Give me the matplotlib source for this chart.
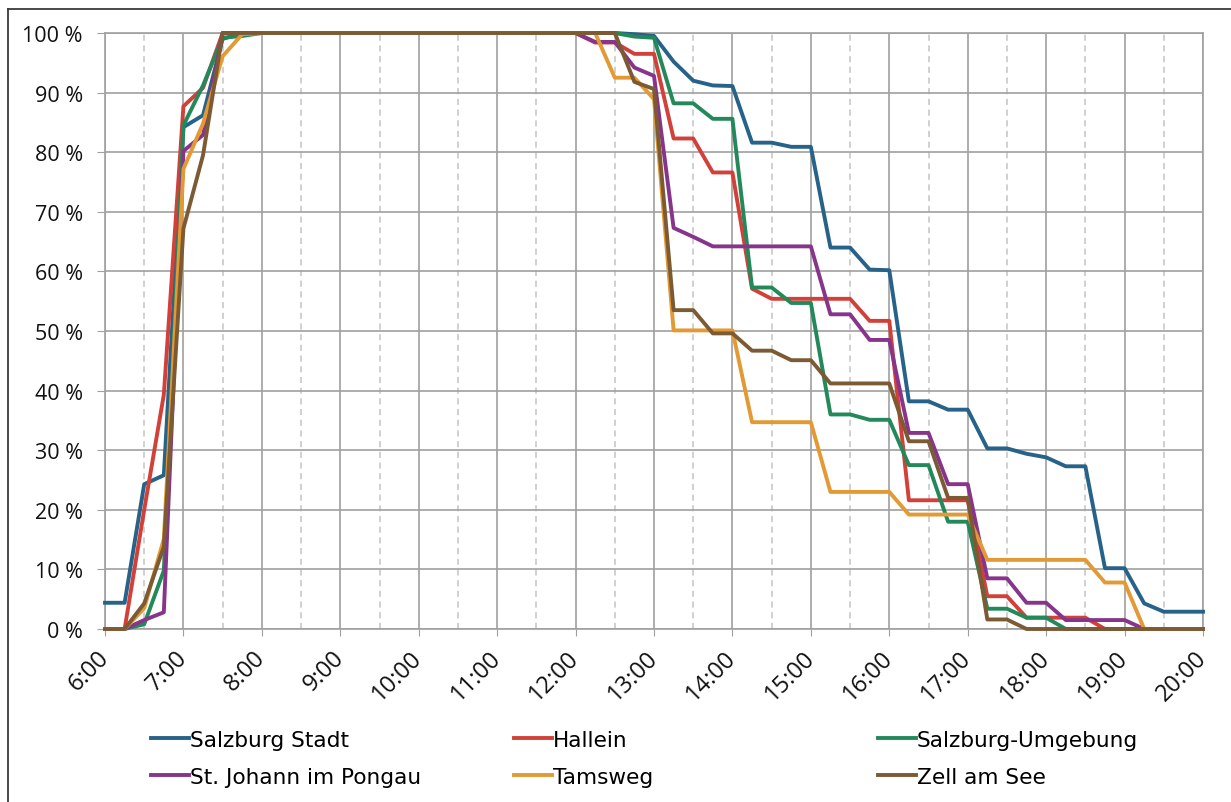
import numpy as np
import matplotlib.pyplot as plt
from matplotlib.lines import Line2D
from matplotlib.ticker import FixedLocator

# quarter-hour slots from 6:00 to 20:00
hours = np.arange(6, 20.25, 0.25)
hour_labels = [f"{h}:00" for h in range(6, 21)]
pct_ticks = list(range(0, 101, 10))

salzburg_stadt = [4.4, 4.4, 24.3, 25.8, 84.2, 86.2, 99.0, 100,
                  100, 100, 100, 100, 100, 100, 100, 100, 100, 100,
                  100, 100, 100, 100, 100, 100, 100, 100, 100,
                  99.8, 99.5, 95.2, 92.0, 91.2, 91.1, 81.6, 81.6, 80.9, 80.9,
                  64.0, 64.0, 60.3, 60.2, 38.2, 38.2, 36.8, 36.8, 30.3, 30.3,
                  29.4, 28.8, 27.3, 27.3, 10.2, 10.2, 4.3, 2.9, 2.9, 2.9]
hallein = [0, 0, 20.0, 39.3, 87.7, 90.8, 100, 100,
           100, 100, 100, 100, 100, 100, 100, 100, 100, 100,
           100, 100, 100, 100, 100, 100, 100, 98.4, 98.4,
           96.5, 96.5, 82.3, 82.3, 76.6, 76.6, 57.1, 55.4, 55.4, 55.4,
           55.4, 55.4, 51.7, 51.7, 21.6, 21.6, 21.6, 21.6, 5.5, 5.5,
           1.9, 1.9, 1.9, 1.9, 0, 0, 0, 0, 0, 0]
umgebung = [0, 0, 0.8, 9.8, 84.5, 91.2, 99.2, 99.5,
            100, 100, 100, 100, 100, 100, 100, 100, 100, 100,
            100, 100, 100, 100, 100, 100, 100, 100, 100,
            99.4, 99.2, 88.2, 88.2, 85.6, 85.6, 57.3, 57.3, 54.7, 54.7,
            36.0, 36.0, 35.1, 35.1, 27.5, 27.5, 18.0, 18.0, 3.4, 3.4,
            1.9, 1.9, 0, 0, 0, 0, 0, 0, 0, 0]
st_johann = [0, 0, 1.5, 2.8, 80.2, 82.9, 100, 100,
             100, 100, 100, 100, 100, 100, 100, 100, 100, 100,
             100, 100, 100, 100, 100, 100, 100, 98.5, 98.5,
             94.2, 92.8, 67.3, 65.8, 64.2, 64.2, 64.2, 64.2, 64.2, 64.2,
             52.8, 52.8, 48.5, 48.5, 32.9, 32.9, 24.3, 24.3, 8.5, 8.5,
             4.4, 4.4, 1.5, 1.5, 1.5, 1.5, 0, 0, 0, 0]
tamsweg = [0, 0, 3.5, 15.1, 77.2, 84.8, 96.1, 99.8,
           100, 100, 100, 100, 100, 100, 100, 100, 100, 100,
           100, 100, 100, 100, 100, 100, 100, 100, 92.5,
           92.5, 88.9, 50.1, 50.1, 50.1, 50.1, 34.7, 34.7, 34.7, 34.7,
           23.0, 23.0, 23.0, 23.0, 19.2, 19.2, 19.2, 19.2, 11.6, 11.6,
           11.6, 11.6, 11.6, 11.6, 7.8, 7.8, 0, 0, 0, 0]
zell_am_see = [0, 0, 4.3, 13.8, 67.2, 79.5, 100, 100,
               100, 100, 100, 100, 100, 100, 100, 100, 100, 100,
               100, 100, 100, 100, 100, 100, 100, 100, 100,
               91.8, 90.6, 53.5, 53.5, 49.6, 49.6, 46.7, 46.7, 45.1, 45.1,
               41.2, 41.2, 41.2, 41.2, 31.5, 31.5, 22.0, 22.0, 1.6, 1.6,
               0, 0, 0, 0, 0, 0, 0, 0, 0, 0]

series = [
    ("Salzburg Stadt", salzburg_stadt, "#276389"),
    ("Hallein", hallein, "#d2403a"),
    ("Salzburg-Umgebung", umgebung, "#24895a"),
    ("St. Johann im Pongau", st_johann, "#87358a"),
    ("Tamsweg", tamsweg, "#e39a35"),
    ("Zell am See", zell_am_see, "#7b5a34"),
]

W, H = 1231, 803
fig = plt.figure(figsize=(W / 100, H / 100), dpi=100)
ax = fig.add_axes([105 / W, 1 - 630 / H, (1203 - 105) / W, (630 - 34) / H])

handles = {}
for name, vals, col in series:
    ln, = ax.plot(hours, vals, color=col, lw=2.8, clip_on=False,
                  solid_joinstyle="round", zorder=3)
    handles[name] = ln

ax.set_xlim(6, 20)
ax.set_ylim(0, 100)
ax.xaxis.set_major_locator(FixedLocator(range(6, 21)))
ax.xaxis.set_minor_locator(FixedLocator(np.arange(6.5, 20, 1.0)))
ax.set_xticklabels(hour_labels)
ax.set_yticks(pct_ticks)
ax.set_yticklabels([f"{v} %" for v in pct_ticks])

grid_col = "#a0a0a0"
ax.grid(which="major", axis="both", color=grid_col, lw=1.2, zorder=1)
ax.grid(which="minor", axis="x", color="#c4c4c4", lw=1.1, ls=(0, (4, 3)), zorder=1)
for sp in ax.spines.values():
    sp.set_color(grid_col)
    sp.set_linewidth(1.2)

tick_font = ["Open Sans", "DejaVu Sans"]
ax.tick_params(axis="y", which="major", length=6, color=grid_col, pad=10,
               labelsize=15.5)
ax.tick_params(axis="x", which="major", length=5, color=grid_col, pad=13,
               labelsize=17)
ax.tick_params(axis="x", which="minor", length=0)
for lbl in ax.get_xticklabels():
    lbl.set_rotation(45)
    lbl.set_rotation_mode("anchor")
    lbl.set_ha("right")
    lbl.set_va("center")
for lbl in ax.get_xticklabels() + ax.get_yticklabels():
    lbl.set_fontfamily(tick_font)
    lbl.set_color("#111111")

# three legend columns, two entries each
columns = [["Salzburg Stadt", "St. Johann im Pongau"],
           ["Hallein", "Tamsweg"],
           ["Salzburg-Umgebung", "Zell am See"]]
col_x = [151, 514, 878]
for names, x0 in zip(columns, col_x):
    fig.legend([handles[n] for n in names], names, loc="upper left",
               bbox_to_anchor=(x0 / W, 1 - 731 / H), frameon=False,
               borderpad=0, borderaxespad=0, handlelength=1.75,
               handletextpad=0.05, labelspacing=0.78,
               prop={"family": "DejaVu Sans", "size": 15.6})

# outer chart frame (top and left edges are inside the image)
fig.add_artist(Line2D([7.5 / W, 1.0], [1 - 10 / H, 1 - 10 / H],
                      transform=fig.transFigure, color="#3a3a3a", lw=1.3))
fig.add_artist(Line2D([7.5 / W, 7.5 / W], [0, 1 - 10 / H],
                      transform=fig.transFigure, color="#3a3a3a", lw=1.3))

fig.savefig("out.png", dpi=100)
